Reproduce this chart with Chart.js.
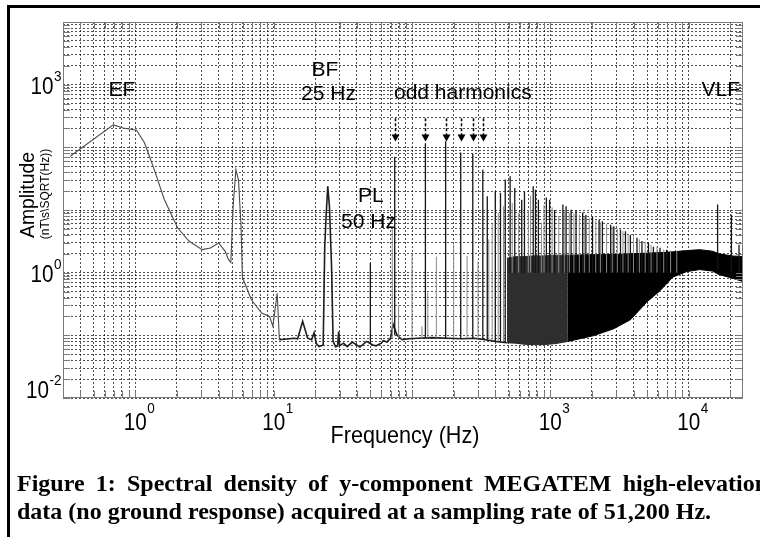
<!DOCTYPE html>
<html>
<head>
<meta charset="utf-8">
<script src="https://cdn.jsdelivr.net/npm/chart.js@4.4.1/dist/chart.umd.min.js"></script>
<style>
  html, body { margin: 0; padding: 0; background: #fff; }
  canvas { display: block; }
</style>
</head>
<body>
<canvas id="spectrum" width="760" height="537"></canvas>
<script>
// low-frequency part of the spectrum: EF hump, 5 Hz peak, 10 Hz blip
var curveFreq = [0.338, 0.693, 0.817, 1.02, 1.165, 1.37, 1.62, 2.02, 2.44, 3.04, 3.49, 4.0, 4.46, 4.72,
  4.9, 5.1, 5.33, 5.57, 5.81, 5.94, 6.04, 6.9, 8.18, 9.35, 9.87, 10.6, 11.0];
var curveAmp = [72, 228, 204, 188, 118, 44, 14.7, 5.2, 3.2, 2.33, 2.48, 2.98, 2.19, 1.61,
  1.45, 12, 44, 30, 5.5, 0.87, 0.77, 0.37, 0.227, 0.2, 0.139, 0.47, 0.085];

// noise floor from 11 Hz up to where the dense band starts (includes the 25 Hz BF peak)
var floorFreq = [11.0, 14.1, 14.9, 16.2, 17.6, 18.8, 19.6, 20.3, 21.3, 22.8, 23.4, 24.0, 24.6, 25.3, 26.2,
  26.9, 28.0, 29.0, 29.5, 30.0, 32, 34, 37, 42, 47, 52, 55, 60, 62, 66, 70, 73, 78, 85, 95, 110, 140,
  180, 230, 280, 340, 400, 485];
var floorAmp = [0.085, 0.09, 0.088, 0.167, 0.09, 0.085, 0.11, 0.075, 0.066, 0.07, 2.6, 9, 24, 11.5, 1.3,
  0.08, 0.066, 0.068, 0.115, 0.068, 0.075, 0.066, 0.078, 0.065, 0.08, 0.07, 0.068, 0.075, 0.082, 0.078,
  0.09, 0.15, 0.1, 0.085, 0.088, 0.09, 0.092, 0.09, 0.088, 0.09, 0.085, 0.08, 0.076];

// dark line spikes: frequency, peak, and the level they rise from
var spikeFreq = [50, 75, 125, 175, 225, 275, 325, 350, 400, 436, 472, 512, 553, 621, 650, 752, 781, 820,
  936, 988, 1073, 1232, 1300, 1413, 1534, 1713, 1807, 2018, 2251, 2379, 2728, 2878, 3214, 3491, 3790,
  4230, 4594, 5121, 5561, 6207, 6929, 16190, 20370, 23120];
var spikeTop = [1.43, 70, 116, 125, 83, 80, 44, 16.5, 20, 18.8, 30.6, 34.6, 22.5, 14.6, 20, 24, 21, 14.6,
  15.8, 14.6, 10, 12.2, 11.5, 10.1, 10, 9.1, 8.4, 7.9, 7.0, 6.6, 5.8, 5.5, 4.9, 4.6, 4.0,
  3.6, 3.2, 3.0, 2.6, 2.5, 2.33, 12.2, 8.4, 2.8];
var spikeBase = [0.072, 0.1, 0.09, 0.09, 0.088, 0.09, 0.085, 0.085, 0.08, 0.08, 0.078, 1, 1, 1, 1, 1, 1, 1,
  1, 1, 1, 1, 1, 1, 1, 1, 1, 1, 1, 1, 1, 1, 1, 1, 1,
  1, 1, 1, 1, 1, 1, 1.1, 1, 1];

// fainter grey spikes
var faintFreq = [72, 80, 100, 118, 130, 150, 200, 250, 300, 359, 380, 420, 459, 530, 590, 693, 720, 862,
  900, 1030, 1150, 1260, 1370, 1480, 1620, 1760, 1910, 2130, 2300, 2550, 2800, 3050, 3350, 3650,
  3990, 4400, 4850, 5350, 5900, 6600, 7400, 8200];
var faintTop = [5, 0.3, 2.0, 0.14, 0.48, 1.8, 2.8, 1.85, 1.5, 3.4, 6, 9, 11.5, 13, 9, 10, 17, 6.3,
  12, 11, 8, 9.5, 9, 8.8, 8.5, 7.8, 7.5, 6.8, 6.4, 6.0, 5.4, 5.0, 4.6, 4.2,
  3.8, 3.4, 3.1, 2.8, 2.6, 2.35, 2.25, 2.2];
var faintBase = [0.09, 0.09, 0.09, 0.09, 0.09, 0.09, 0.09, 0.09, 0.088, 0.085, 0.082, 0.08, 0.08, 1, 1, 1, 1, 1,
  1, 1, 1, 1, 1, 1, 1, 1, 1, 1, 1, 1, 1, 1, 1, 1,
  1, 1, 1, 1, 1, 1, 1, 1];

// dense band of lines above ~500 Hz (dark grey start, then solid black)
var bandFreqA = [485, 560, 650, 750, 900, 1100, 1340];
var bandLowA = [0.076, 0.075, 0.072, 0.071, 0.071, 0.074, 0.080];
var bandHighA = [1.7, 1.8, 1.8, 1.85, 1.85, 1.9, 1.9];
var bandFreqB = [1340, 2063, 2866, 3790, 5010, 6210, 7690, 9680, 12000, 14840, 16650, 20600, 24700];
var bandLowB = [0.080, 0.099, 0.127, 0.177, 0.344, 0.516, 0.85, 1.04, 1.12, 1.06, 0.93, 0.82, 0.72];
var bandHighB = [1.9, 1.94, 1.95, 2.0, 2.05, 2.09, 2.15, 2.25, 2.33, 2.2, 2.0, 1.85, 1.8];

// axes
var freqMin = 0.34, freqMax = 24700;
var ampMin = 0.01, ampMax = 10000;
var xLabelExp = [0, 1, 3, 4];
var yLabelExp = [3, 0, -2];

// annotations (anchored in data coordinates: text centre, baseline)
var noteText = ['EF', 'BF', '25 Hz', 'odd harmonics', 'VLF', 'PL', '50 Hz'];
var noteFreq = [0.80, 23.5, 24.9, 233, 17060, 50.5, 48.5];
var noteAmp = [650, 1352, 559, 580, 650, 13.5, 5.2];
var arrowFreq = [75, 125, 175, 225, 275, 325];
var arrowFrom = 290, arrowTo = 124;

var captionLine1 = 'Figure 1: Spectral density of y-component MEGATEM high-elevation';
var captionLine2 = 'data (no ground response) acquired at a sampling rate of 51,200 Hz.';

var SANS = '"Liberation Sans", Arial, Helvetica, sans-serif';
var SERIF = '"Liberation Serif", "Times New Roman", serif';

function pts(xs, ys) {
  return xs.map(function (x, i) { return {x: x, y: ys[i]}; });
}

function spikePts(fs, tops, bases) {
  var out = [];
  fs.forEach(function (f, i) {
    out.push({x: f, y: bases[i]}, {x: f, y: tops[i]}, {x: f, y: null});
  });
  return out;
}

function logGrid(lo, hi) {
  var v = [];
  for (var e = Math.floor(Math.log10(lo)); e <= Math.ceil(Math.log10(hi)); e++) {
    for (var d = 1; d <= 9; d++) {
      var t = d * Math.pow(10, e);
      if (t >= lo * 0.9999 && t <= hi * 1.0001) v.push(t);
    }
  }
  return v;
}

function say(ctx, s, x, y, size, o) {
  o = o || {};
  ctx.save();
  ctx.font = (o.weight || '') + ' ' + size + 'px ' + (o.family || SANS);
  ctx.fillStyle = '#000';
  ctx.textAlign = o.align || 'left';
  ctx.textBaseline = 'alphabetic';
  ctx.translate(x, y);
  if (o.rotate) ctx.rotate(o.rotate);
  ctx.scale(o.sx || 1, 1);
  ctx.fillText(s, 0, 0);
  ctx.restore();
}

function power(ctx, exp, x, y, mode) {
  ctx.save();
  ctx.font = '23px ' + SANS;
  var wBase = ctx.measureText('10').width * 0.9;
  ctx.font = '15px ' + SANS;
  var wExp = ctx.measureText(String(exp)).width * 0.9;
  ctx.restore();
  var x0 = mode === 'x' ? x - wBase / 2 : x - wBase - wExp - 1;
  say(ctx, '10', x0, mode === 'x' ? y + 32 : y + 9, 23, {sx: 0.9});
  say(ctx, String(exp), x0 + wBase + 0.5, mode === 'x' ? y + 15 : y - 4, 15, {sx: 0.9});
}

var decorations = {
  id: 'decorations',
  beforeDraw: function (chart) {
    var ctx = chart.ctx;
    ctx.save();
    ctx.fillStyle = '#fff';
    ctx.fillRect(0, 0, chart.width, chart.height);
    ctx.restore();
  },
  afterDraw: function (chart) {
    var ctx = chart.ctx, a = chart.chartArea;
    var xs = chart.scales.x, ys = chart.scales.y;

    // plot frame and inward ticks
    ctx.save();
    ctx.strokeStyle = '#7a7a7a';
    ctx.lineWidth = 1;
    ctx.strokeRect(a.left + 0.5, a.top + 0.5, a.right - a.left - 1, a.bottom - a.top - 1);
    ctx.beginPath();
    logGrid(freqMin, freqMax).forEach(function (v) {
      var px = Math.round(xs.getPixelForValue(v)) + 0.5;
      ctx.moveTo(px, a.bottom); ctx.lineTo(px, a.bottom - 7);
      ctx.moveTo(px, a.top); ctx.lineTo(px, a.top + 7);
    });
    logGrid(ampMin, ampMax).forEach(function (v) {
      var py = Math.round(ys.getPixelForValue(v)) + 0.5;
      ctx.moveTo(a.left, py); ctx.lineTo(a.left + 7, py);
      ctx.moveTo(a.right, py); ctx.lineTo(a.right - 7, py);
    });
    ctx.stroke();
    ctx.restore();

    // tick labels
    xLabelExp.forEach(function (e) {
      power(ctx, e, xs.getPixelForValue(Math.pow(10, e)), a.bottom, 'x');
    });
    yLabelExp.forEach(function (e) {
      var py = ys.getPixelForValue(Math.pow(10, e));
      if (py > a.bottom - 5) py = a.bottom - 9;
      power(ctx, e, a.left - 1, py, 'y');
    });

    // axis titles
    say(ctx, 'Frequency (Hz)', (a.left + a.right) / 2 + 2, a.bottom + 45, 24, {align: 'center', sx: 0.9});
    say(ctx, 'Amplitude', 34, 195, 21, {align: 'center', rotate: -Math.PI / 2, sx: 0.92});
    say(ctx, '(nT\\s\\SQRT(Hz))', 49, 194, 12, {align: 'center', rotate: -Math.PI / 2});

    // annotations
    noteText.forEach(function (t, i) {
      say(ctx, t, xs.getPixelForValue(noteFreq[i]), ys.getPixelForValue(noteAmp[i]), 21, {align: 'center'});
    });

    // dashed arrows over the odd harmonics
    ctx.save();
    arrowFreq.forEach(function (f) {
      var px = Math.round(xs.getPixelForValue(f)) + 0.5;
      var y1 = ys.getPixelForValue(arrowFrom), y2 = ys.getPixelForValue(arrowTo);
      ctx.strokeStyle = '#000';
      ctx.lineWidth = 1.5;
      ctx.setLineDash([3, 2]);
      ctx.beginPath();
      ctx.moveTo(px, y1); ctx.lineTo(px, y2 - 6);
      ctx.stroke();
      ctx.setLineDash([]);
      ctx.fillStyle = '#000';
      ctx.beginPath();
      ctx.moveTo(px - 4, y2 - 7); ctx.lineTo(px + 4, y2 - 7); ctx.lineTo(px, y2);
      ctx.closePath();
      ctx.fill();
    });
    ctx.restore();

    // caption: first line justified, second left aligned
    ctx.save();
    ctx.font = 'bold 24px ' + SERIF;
    ctx.fillStyle = '#000';
    var words = captionLine1.split(' ');
    var widths = words.map(function (w) { return ctx.measureText(w).width; });
    var total = widths.reduce(function (s, w) { return s + w; }, 0);
    var gap = (768 - 17 - total) / (words.length - 1);
    var cx = 17;
    words.forEach(function (w, i) { ctx.fillText(w, cx, 491); cx += widths[i] + gap; });
    ctx.fillText(captionLine2, 17, 519);
    ctx.restore();

    // outer figure frame (continues past the right and bottom edges)
    ctx.save();
    ctx.strokeStyle = '#000';
    ctx.lineWidth = 3;
    ctx.strokeRect(8.5, 6.5, 900, 700);
    ctx.restore();
  }
};

var line = function (label, data, color, width, extra) {
  var d = {label: label, data: data, borderColor: color, borderWidth: width,
    pointRadius: 0, tension: 0, fill: false, spanGaps: false};
  return Object.assign(d, extra || {});
};

var gridStyle = {color: 'rgba(0,0,0,0.68)', lineWidth: 1, drawTicks: false};

new Chart(document.getElementById('spectrum'), {
  type: 'line',
  data: {
    datasets: [
      line('spikes', spikePts(spikeFreq, spikeTop, spikeBase), '#151515', 1.3),
      line('faint spikes', spikePts(faintFreq, faintTop, faintBase), '#8a8a8a', 1),
      line('floor', pts(floorFreq, floorAmp), '#1e1e1e', 1.6),
      line('low frequency', pts(curveFreq, curveAmp), '#4a4a4a', 1.1),
      line('band A low', pts(bandFreqA, bandLowA), '#2a2a2a', 1),
      line('band A high', pts(bandFreqA, bandHighA), '#2a2a2a', 1, {fill: '-1', backgroundColor: '#2e2e2e'}),
      line('band B low', pts(bandFreqB, bandLowB), '#000', 1),
      line('band B high', pts(bandFreqB, bandHighB), '#000', 1, {fill: '-1', backgroundColor: '#000'})
    ]
  },
  options: {
    responsive: false,
    animation: false,
    events: [],
    layout: {padding: {left: 63, top: 22, right: 17, bottom: 139}},
    plugins: {legend: {display: false}, tooltip: {enabled: false}},
    scales: {
      x: {
        type: 'logarithmic', min: freqMin, max: freqMax,
        afterBuildTicks: function (scale) {
          scale.ticks = logGrid(freqMin, freqMax).map(function (v) { return {value: v}; });
        },
        afterFit: function (scale) { scale.height = 0; },
        ticks: {display: false},
        grid: gridStyle,
        border: {display: false, dash: [2, 2]}
      },
      y: {
        type: 'logarithmic', min: ampMin, max: ampMax,
        afterBuildTicks: function (scale) {
          scale.ticks = logGrid(ampMin, ampMax).map(function (v) { return {value: v}; });
        },
        afterFit: function (scale) { scale.width = 0; },
        ticks: {display: false},
        grid: gridStyle,
        border: {display: false, dash: [2, 2]}
      }
    }
  },
  plugins: [decorations]
});
</script>
</body>
</html>
